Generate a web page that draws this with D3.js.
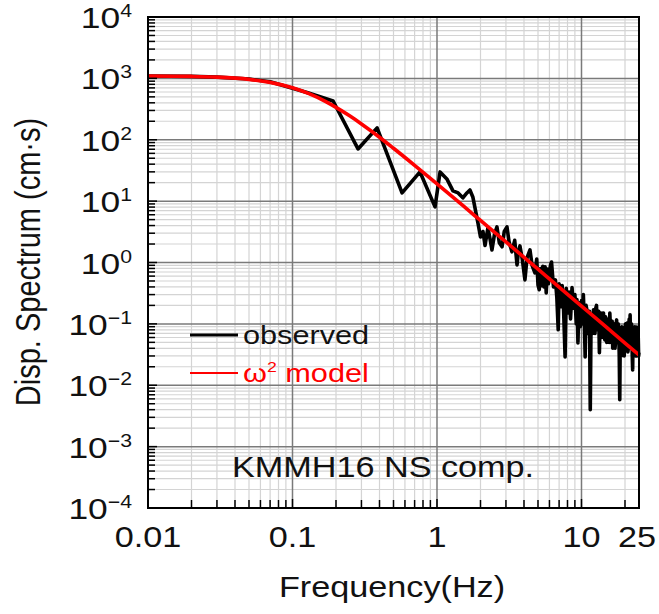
<!DOCTYPE html>
<html>
<head>
<meta charset="utf-8">
<script src="https://cdn.jsdelivr.net/npm/d3@7"></script>
<style>
	body { margin: 0; background: #fff; }
	text { font-family: "Liberation Sans", Arial, Helvetica, sans-serif; }
</style>
</head>
<body>
<svg id="chart" width="659" height="614"></svg>
<script>

// observed displacement spectrum (Hz, cm·s)
const obsFreq = [0.01, 0.02, 0.03, 0.05, 0.07, 0.1, 0.126, 0.191, 0.284, 0.385, 0.573, 0.763, 0.969,
	1.05, 1.17, 1.29, 1.40, 1.51, 1.61, 1.69, 1.77, 1.92, 2.0, 2.08, 2.15, 2.25, 2.33, 2.40, 2.5, 2.60, 2.7, 2.82, 2.92, 3.05, 3.15,
	3.30, 3.45, 3.58, 3.66, 3.75, 3.9, 4.06, 4.2, 4.40, 4.55, 4.76,
	4.9, 5.0, 5.1, 5.2, 5.3, 5.4, 5.5, 5.6, 5.7, 5.8, 5.9, 6.0, 6.1, 6.2,
	6.4, 6.6, 6.75, 6.9, 7.0, 7.2, 7.35, 7.5, 7.7, 7.85, 8.0, 8.2, 8.4, 8.6, 8.8, 9.0, 9.2, 9.3, 9.45, 9.6, 9.8, 10.0,
	10.15, 10.3, 10.45, 10.6, 10.75, 10.9, 11.05, 11.2, 11.35, 11.5, 11.65, 11.8, 11.95, 12.1, 12.25, 12.4, 12.55, 12.7, 12.85, 13.0,
	13.15, 13.3, 13.45, 13.6, 13.75, 13.9, 14.05, 14.2, 14.35, 14.5, 14.65, 14.8, 14.95, 15.1, 15.25, 15.4, 15.55, 15.7, 15.85, 16.0,
	16.15, 16.3, 16.45, 16.6, 16.75, 16.9, 17.05, 17.2, 17.35, 17.5, 17.65, 17.8, 17.95, 18.1, 18.25, 18.4, 18.55, 18.7, 18.85, 19.0,
	19.15, 19.3, 19.45, 19.6, 19.75, 19.9, 20.05, 20.2, 20.35, 20.5, 20.65, 20.8, 20.95, 21.1, 21.25, 21.4, 21.55, 21.7, 21.85, 22.0,
	22.15, 22.3, 22.45, 22.6, 22.75, 22.9, 23.05, 23.2, 23.35, 23.5, 23.65, 23.8, 23.95, 24.1, 24.25, 24.4, 24.55, 24.7, 24.85, 25.0];
const obsAmp = [1094, 1076, 1047, 975, 880, 690, 590, 428, 70.8, 156, 13.6, 29.9, 8.05,
	29.9, 23.0, 14.7, 13.6, 11.3, 13.6, 15.2, 11.7, 4.41, 2.6, 3.2, 1.9, 3.66, 2.4, 1.60, 2.9, 3.80, 2.1, 1.80, 3.2, 3.80, 2.2,
	1.49, 2.3, 0.914, 1.5, 1.86, 1.1, 0.521, 1.2, 1.60, 0.9, 0.678,
	1.14, 0.43, 0.36, 0.80, 0.42, 0.87, 0.40, 0.85, 0.32, 0.78, 0.45, 0.70, 0.90, 1.02,
	0.40, 0.52, 0.27, 0.08, 0.45, 0.19, 0.42, 0.20, 0.029, 0.38, 0.15, 0.33, 0.12, 0.39, 0.18, 0.30, 0.10, 0.25, 0.049, 0.22, 0.09, 0.24,
	0.10, 0.30, 0.12, 0.029, 0.20, 0.17, 0.07, 0.08, 0.16, 0.004, 0.12, 0.14, 0.07, 0.17, 0.10, 0.07, 0.18, 0.20, 0.08, 0.09,
	0.16, 0.034, 0.12, 0.15, 0.06, 0.07, 0.15, 0.15, 0.06, 0.055, 0.13, 0.12, 0.05, 0.06, 0.12, 0.11, 0.05, 0.15, 0.09, 0.05,
	0.10, 0.11, 0.04, 0.042, 0.10, 0.09, 0.04, 0.05, 0.10, 0.116, 0.05, 0.06, 0.10, 0.08, 0.03, 0.0058, 0.07, 0.06, 0.03, 0.09,
	0.05, 0.034, 0.08, 0.07, 0.03, 0.045, 0.09, 0.10, 0.04, 0.05, 0.09, 0.104, 0.035, 0.04, 0.10, 0.12, 0.05, 0.14, 0.04, 0.05,
	0.10, 0.09, 0.03, 0.0178, 0.08, 0.07, 0.03, 0.04, 0.09, 0.085, 0.03, 0.035, 0.08, 0.089, 0.03, 0.04, 0.07, 0.06, 0.03, 0.034];

// omega-square source model curve
const modelFreq = [0.01, 0.02, 0.03, 0.05, 0.07, 0.1, 0.13, 0.17, 0.2, 0.25, 0.3, 0.4, 0.5, 0.7, 1, 1.5, 2, 3, 5, 7, 10, 15, 20, 25];
const modelAmp = [1094, 1076, 1047, 964, 861, 703, 563, 418, 337, 243, 181, 110, 72.7, 38.3, 19.1, 8.58, 4.84, 2.16, 0.778, 0.397, 0.195, 0.0865, 0.0486, 0.0311];

const xTickValues = [0.01, 0.1, 1, 10, 25];
const xTickLabels = ["0.01", "0.1", "1", "10", "25"];
const yExponents = [-4, -3, -2, -1, 0, 1, 2, 3, 4];

const width = 659, height = 614;
const plot = {left: 148, right: 639, top: 17, bottom: 508};
const sx = 1.18; // the original picture is a little wider than tall
const ink = "#111";

const svg = d3.select("#chart");

const x = d3.scaleLog().domain([0.01, 25]).range([plot.left, plot.right]);
const y = d3.scaleLog().domain([1e-4, 1e4]).range([plot.bottom, plot.top]);

const isMajor = v => Math.abs(Math.log10(v) - Math.round(Math.log10(v))) < 1e-9;

const xt = x.ticks().filter(v => v > 0.01 && v < 25);
const yt = y.ticks().filter(v => v > 1e-4 && v < 1e4);

// grid, minor first then decades on top
const grid = svg.append("g");

grid.selectAll(".vminor")
	.data(xt.filter(v => !isMajor(v)))
	.enter()
	.append("line")
	.attr("x1", d => x(d)).attr("x2", d => x(d))
	.attr("y1", plot.top).attr("y2", plot.bottom)
	.attr("stroke", "#d4d4d4")
	.attr("stroke-width", 1.2);

grid.selectAll(".hminor")
	.data(yt.filter(v => !isMajor(v)))
	.enter()
	.append("line")
	.attr("x1", plot.left).attr("x2", plot.right)
	.attr("y1", d => y(d)).attr("y2", d => y(d))
	.attr("stroke", "#d4d4d4")
	.attr("stroke-width", 1.2);

grid.selectAll(".vmajor")
	.data(xt.filter(isMajor))
	.enter()
	.append("line")
	.attr("x1", d => x(d)).attr("x2", d => x(d))
	.attr("y1", plot.top).attr("y2", plot.bottom)
	.attr("stroke", "#7a7a7a")
	.attr("stroke-width", 1.5);

grid.selectAll(".hmajor")
	.data(yt.filter(isMajor))
	.enter()
	.append("line")
	.attr("x1", plot.left).attr("x2", plot.right)
	.attr("y1", d => y(d)).attr("y2", d => y(d))
	.attr("stroke", "#7a7a7a")
	.attr("stroke-width", 1.5);

// spectra
const line = d3.line()
	.x(d => x(d[0]))
	.y(d => y(d[1]));

svg.append("path")
	.datum(obsFreq.map((f, i) => [f, obsAmp[i]]))
	.attr("d", line)
	.attr("fill", "none")
	.attr("stroke", "#000")
	.attr("stroke-width", 3.6)
	.attr("stroke-linejoin", "round");

svg.append("path")
	.datum(modelFreq.map((f, i) => [f, modelAmp[i]]))
	.attr("d", line.curve(d3.curveMonotoneX))
	.attr("fill", "none")
	.attr("stroke", "#ff0000")
	.attr("stroke-width", 3.6);

// inner ticks on left and bottom
svg.append("g")
	.selectAll("line")
	.data(yt)
	.enter()
	.append("line")
	.attr("x1", plot.left).attr("x2", d => plot.left + (isMajor(d) ? 9 : 7))
	.attr("y1", d => y(d)).attr("y2", d => y(d))
	.attr("stroke", "#000")
	.attr("stroke-width", 1.5);

svg.append("g")
	.selectAll("line")
	.data(xt)
	.enter()
	.append("line")
	.attr("x1", d => x(d)).attr("x2", d => x(d))
	.attr("y1", plot.bottom).attr("y2", d => plot.bottom - (isMajor(d) ? 9 : 8))
	.attr("stroke", "#000")
	.attr("stroke-width", 1.5);

// frame
svg.append("rect")
	.attr("x", plot.left).attr("y", plot.top)
	.attr("width", plot.right - plot.left)
	.attr("height", plot.bottom - plot.top)
	.attr("fill", "none")
	.attr("stroke", "#000")
	.attr("stroke-width", 2);

// text placed through a horizontally stretched group
function label(px, py, anchor, size, color){
	return svg.append("g")
		.attr("transform", `translate(${px},${py}) scale(${sx},1)`)
		.append("text")
		.attr("text-anchor", anchor)
		.attr("font-size", size)
		.attr("fill", color || ink);
}

xTickValues.forEach((v, i) => {
	label(x(v) - (v === 25 ? 2 : 0), 547, "middle", 29).text(xTickLabels[i]);
});

yExponents.forEach(e => {
	let t = label(132, y(Math.pow(10, e)) + 11, "end", 30);
	t.append("tspan").text("10");
	t.append("tspan").attr("font-size", 18).attr("dy", -11).text(e < 0 ? "\u2212" + (-e) : e);
});

label(392, 597, "middle", 29).text("Frequency(Hz)");

svg.append("g")
	.attr("transform", `translate(40,262) scale(${sx},1) rotate(-90)`)
	.append("text")
	.attr("text-anchor", "middle")
	.attr("font-size", 29)
	.attr("fill", ink)
	.text("Disp. Spectrum (cm\u00b7s)");

label(383, 477, "middle", 29).text("KMMH16 NS comp.");

// legend
svg.append("line")
	.attr("x1", 190).attr("x2", 238)
	.attr("y1", 335).attr("y2", 335)
	.attr("stroke", "#000").attr("stroke-width", 3);
label(243, 344, "start", 26).text("observed");

svg.append("line")
	.attr("x1", 190).attr("x2", 238)
	.attr("y1", 373).attr("y2", 373)
	.attr("stroke", "#ff0000").attr("stroke-width", 2);
let m = label(243, 382, "start", 26, "#ff0000");
m.append("tspan").text("\u03c9");
m.append("tspan").attr("font-size", 15).attr("dy", -10).text("2");
m.append("tspan").attr("dy", 10).text(" model");

</script>
</body>
</html>
